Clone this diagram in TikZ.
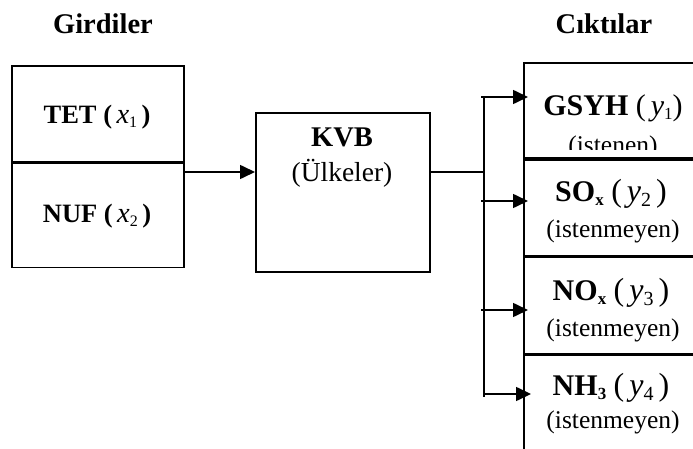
\documentclass[tikz,border=0pt]{standalone}
\usepackage{fontspec}
\setmainfont{Liberation Serif}
\usetikzlibrary{arrows.meta}
% variable with subscript: #1 size of letter, #2 size of subscript, #3 letter, #4 subscript
\newcommand{\vsub}[4]{{\fontsize{#1}{#1}\selectfont\mdseries\itshape #3}\raisebox{-0.35ex}{\fontsize{#2}{#2}\selectfont\mdseries\upshape #4}}
\newcommand{\bsub}[1]{\raisebox{-0.3ex}{\fontsize{17}{17}\selectfont\bfseries #1}}
\newcommand{\bigpar}[1]{{\fontsize{32}{32}\selectfont\mdseries #1}}
\begin{document}
\begin{tikzpicture}[x=1pt,y=-1pt,
  box/.style={draw, line width=1.6pt, inner sep=0pt, anchor=north west},
  lbl/.style={font=\fontsize{25.5}{30}\selectfont, inner sep=0pt},
  inl/.style={font=\fontsize{26.5}{30}\selectfont\bfseries, inner sep=0pt},
  outl/.style={font=\fontsize{30}{32}\selectfont\bfseries, inner sep=0pt},
  head/.style={font=\fontsize{28.5}{30}\selectfont\bfseries, inner sep=0pt},
  arr/.style={-{Triangle[length=15pt,width=14pt]}, line width=1.6pt},
  ln/.style={line width=1.6pt}]
\path[use as bounding box] (0,0) rectangle (693,449);
\clip (0,0) rectangle (693,449);

% headers
\node[head] (gir) at (103,24) {Girdiler};
\node[head] (cik) at (604,24) {Cıktılar};

% input boxes
\node[box, minimum width=172pt, minimum height=96pt] (tet) at (11,65) {};
\node[box, minimum width=172pt, minimum height=104pt] (nuf) at (11,162.5) {};
\node[inl] (tett) at (97,117) {TET (\,\vsub{28.5}{16}{x}{1}\,)};
\node[inl] (nuft) at (97,216) {NUF (\,\vsub{28.5}{16}{x}{2}\,)};

% KVB box
\node[box, minimum width=174pt, minimum height=159pt] (kvb) at (255,112) {};
\node[head] (kvbt) at (342,137) {KVB};
\node[lbl, font=\fontsize{27.5}{30}\selectfont] (ulk) at (342,173) {(Ülkeler)};

% output boxes
\node[box, minimum width=220pt, minimum height=95.5pt] (r1) at (523,62) {};
\node[box, minimum width=220pt, minimum height=96pt] (r2) at (523,159) {};
\node[box, minimum width=220pt, minimum height=97pt] (r3) at (523,256) {};
\node[box, minimum width=220pt, minimum height=130pt] (r4) at (523,354) {};

\node[outl] (y1t) at (613,108) {GSYH {\mdseries (}\,\vsub{30}{17}{y}{1}{\mdseries )}};
\begin{scope}
\clip (524,120) rectangle (693,150);
\node[lbl] (y1s) at (613,147) {(istenen)};
\end{scope}
\node[outl] (y2t) at (611,194) {SO\bsub{x} \bigpar{(}\,\vsub{32}{20}{y}{2}\,\bigpar{)}};
\node[lbl] (y2s) at (613,231) {(istenmeyen)};
\node[outl] (y3t) at (611,293) {NO\bsub{x} \bigpar{(}\,\vsub{32}{20}{y}{3}\,\bigpar{)}};
\node[lbl] (y3s) at (613,330) {(istenmeyen)};
\node[outl] (y4t) at (611,388) {NH\bsub{3} \bigpar{(}\,\vsub{32}{20}{y}{4}\,\bigpar{)}};
\node[lbl] (y4s) at (613,422) {(istenmeyen)};

% connectors
\coordinate (inY) at (0,172);
\draw[arr] (nuf.east |- inY) -- (kvb.west |- inY);
\coordinate (bus) at (484,172);
\draw[ln] (kvb.east |- inY) -- (bus);
\coordinate (bt) at (484,97);
\coordinate (bb) at (484,397);
\draw[ln] (bt) -- (bb);
\coordinate (a1) at (481,97);
\coordinate (a2) at (481,201);
\coordinate (a3) at (481,310);
\coordinate (a4) at (484,394);
\draw[arr, shorten >=-5pt] (a1) -- (r1.west |- a1);
\draw[arr, shorten >=-5pt] (a2) -- (r2.west |- a2);
\draw[arr, shorten >=-5pt] (a3) -- (r3.west |- a3);
\draw[arr, shorten >=-8pt] (a4) -- (r4.west |- a4);
\end{tikzpicture}
\end{document}
